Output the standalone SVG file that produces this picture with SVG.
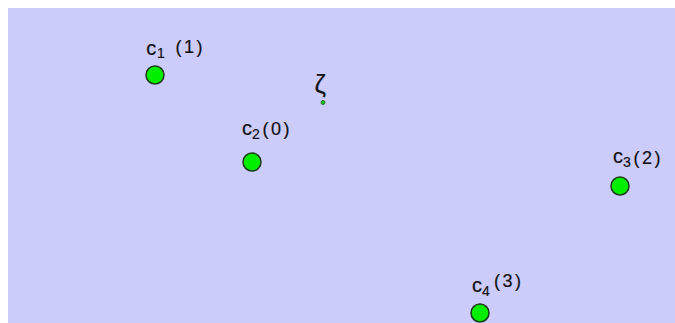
<svg xmlns="http://www.w3.org/2000/svg" width="675" height="323" viewBox="0 0 675 323">
<style>
.pt{fill:#00ee00;stroke:#1a3a1a;stroke-width:1.5}
text{fill:#111;stroke:#111;stroke-width:0.2;font-family:"Liberation Sans",Arial,sans-serif}
.c{font-size:20px}
.s{font-size:14px}
.p{font-size:18px;letter-spacing:2.5px}
</style>
<rect x="8" y="8" width="667" height="315" fill="#ccccfa"/>
<g id="c1">
<circle class="pt" cx="155" cy="75" r="9"/>
<text class="c" x="146.3" y="54.5">c</text><text class="s" x="157" y="58">1</text><text class="p" x="175.5" y="52.5">(1)</text>
</g>
<g id="c2">
<circle class="pt" cx="252" cy="162" r="9"/>
<text class="c" x="242" y="135">c</text><text class="s" x="252" y="139">2</text><text class="p" x="262.5" y="134.5">(0)</text>
</g>
<g id="c3">
<circle class="pt" cx="620" cy="186" r="9"/>
<text class="c" x="613" y="163">c</text><text class="s" x="623" y="166.5">3</text><text class="p" x="633.5" y="163.5">(2)</text>
</g>
<g id="c4">
<circle class="pt" cx="480" cy="313" r="9"/>
<text class="c" x="472" y="292">c</text><text class="s" x="482" y="295.5">4</text><text class="p" x="494" y="286.5">(3)</text>
</g>
<g id="zeta">
<text x="314.5" y="93" font-family="DejaVu Serif,serif" font-size="26" stroke-width="0.2">ζ</text>
<circle cx="323" cy="102.5" r="2" fill="#00cc00" stroke="#225522" stroke-width="0.8"/>
</g>
</svg>
